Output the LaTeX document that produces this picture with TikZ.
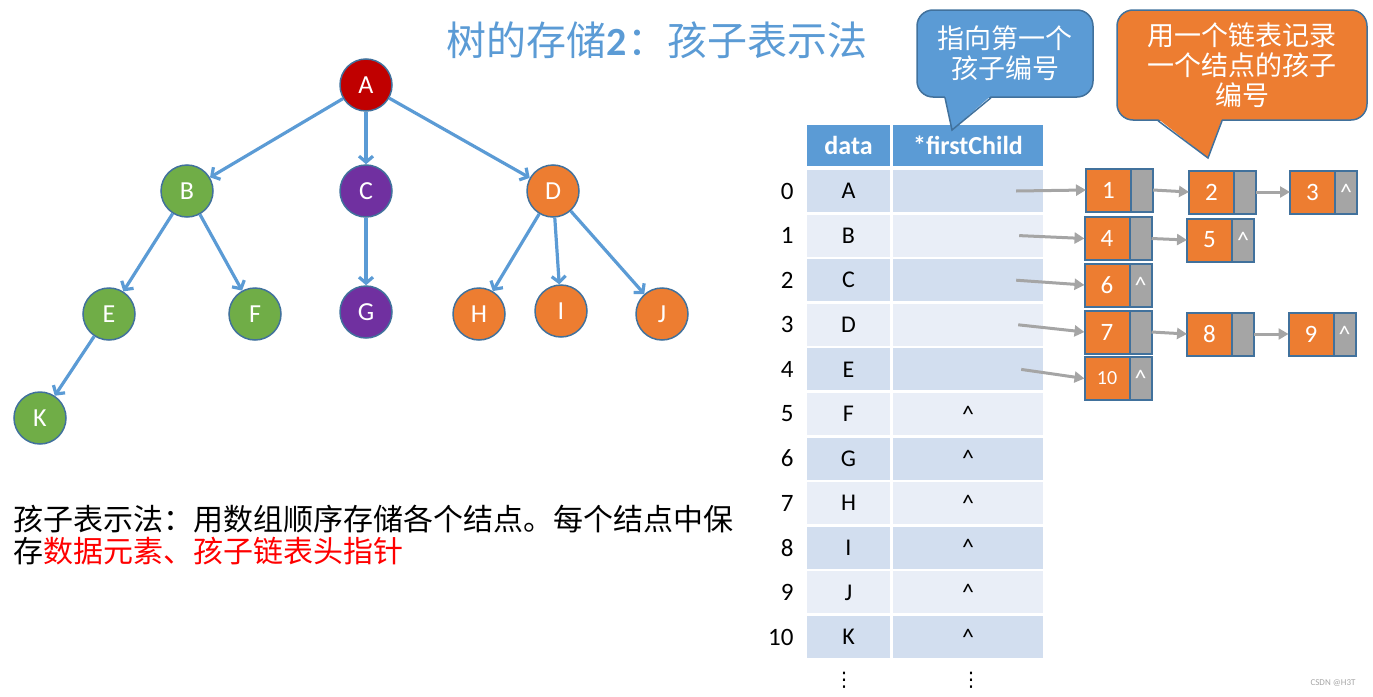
\documentclass[tikz,border=0pt]{standalone}
\usepackage{fontspec}
\setmainfont{Carlito}
\newfontfamily\cjk{Noto Sans CJK SC}
\newfontfamily\symfont{DejaVu Sans}
\usetikzlibrary{arrows.meta,positioning}

\definecolor{treeblue}{HTML}{5B9BD5}
\definecolor{lineblue}{HTML}{41719C}
\definecolor{nred}{HTML}{C00000}
\definecolor{ngreen}{HTML}{70AD47}
\definecolor{npurple}{HTML}{7030A0}
\definecolor{norange}{HTML}{ED7D31}
\definecolor{ngray}{HTML}{A5A5A5}
\definecolor{rowA}{HTML}{D2DEEF}
\definecolor{rowB}{HTML}{E9EEF7}

\begin{document}
\begin{tikzpicture}[x=1pt, y=-1pt,
	tnode/.style={draw=lineblue, line width=1.5pt, circle, minimum size=52pt, inner sep=0pt, text=white, font=\fontsize{26}{26}\selectfont},
	tedge/.style={treeblue, line width=3.2pt, -{Straight Barb[length=6pt,width=14pt]}},
	hcell/.style={fill=treeblue, text=white, minimum height=41pt, inner sep=0pt, font=\bfseries\fontsize{26}{26}\selectfont},
	cell/.style={minimum height=42pt, inner sep=0pt, font=\fontsize{24}{24}\selectfont},
	lnum/.style={draw=lineblue, line width=2pt, fill=norange, text=white, minimum width=45pt, minimum height=43pt, inner sep=0pt, outer sep=0pt, font=\fontsize{25}{25}\selectfont},
	lnext/.style={draw=lineblue, line width=2pt, fill=ngray, text=white, minimum width=22pt, minimum height=43pt, inner sep=0pt, outer sep=0pt, font=\fontsize{24}{24}\selectfont},
	parrow/.style={ngray, line width=3pt, -{Triangle[length=10pt,width=11pt]}},
	callout/.style={draw=lineblue, line width=1.5pt, rounded corners=16pt, text=white, align=center, inner sep=0pt, font=\cjk\fontsize{27}{30}\selectfont}]
	\useasboundingbox (0,0) rectangle (1373,696);
	
	\node[text=treeblue, font=\cjk\fontsize{40}{40}\selectfont] (title) at (657,40) {树的存储{\normalfont\bfseries 2}：孩子表示法};
	
	% tree
	\node[tnode, fill=nred] (A) at (366,85) {A};
	\node[tnode, fill=ngreen] (B) at (187,191) {B};
	\node[tnode, fill=npurple] (C) at (366,191) {C};
	\node[tnode, fill=norange] (D) at (553,191) {D};
	\node[tnode, fill=ngreen] (E) at (109,314) {E};
	\node[tnode, fill=ngreen] (F) at (255,314) {F};
	\node[tnode, fill=npurple] (G) at (366,312) {G};
	\node[tnode, fill=norange] (H) at (479,314) {H};
	\node[tnode, fill=norange] (I) at (561,311) {I};
	\node[tnode, fill=norange] (J) at (662,314) {J};
	\node[tnode, fill=ngreen] (K) at (40,418) {K};
	
	\draw[tedge] (A) -- (B);
	\draw[tedge] (A) -- (C);
	\draw[tedge] (A) -- (D);
	\draw[tedge] (B) -- (E);
	\draw[tedge] (B) -- (F);
	\draw[tedge] (C) -- (G);
	\draw[tedge] (D) -- (H);
	\draw[tedge] (D) -- (I);
	\draw[tedge] (D) -- (J);
	\draw[tedge] (E) -- (K);
	
	\node[anchor=west, align=left, font=\cjk\fontsize{30}{32}\selectfont] (desc) at (10,535) {孩子表示法：用数组顺序存储各个结点。每个结点中保\\存\textcolor{red}{数据元素、孩子链表头指针}};
	
	% table
	\node[hcell, minimum width=83pt] (hd) at (848.5,145.5) {data};
	\node[hcell, minimum width=150pt] (hf) at (968,145.5) {*firstChild};
	\foreach \ch/\cl/\nx [count=\i from 0] in {A/rowA/{}, B/rowB/{}, C/rowA/{}, D/rowB/{}, E/rowA/{}, F/rowB/\textasciicircum, G/rowA/\textasciicircum, H/rowB/\textasciicircum, I/rowA/\textasciicircum, J/rowB/\textasciicircum, K/rowA/\textasciicircum}{
		\node[cell, fill=\cl, minimum width=83pt] (d\i) at (848.5,191+44.6*\i) {\ch};
		\node[cell, fill=\cl, minimum width=150pt] (f\i) at (968,191+44.6*\i) {\nx};
		\node[anchor=east, font=\fontsize{25}{25}\selectfont] (i\i) at (797,191+44.6*\i) {\i};
	}
	\node[font=\symfont\fontsize{20}{20}\selectfont] (vd) at (844,680) {⋮};
	\node[font=\symfont\fontsize{20}{20}\selectfont] (vf) at (971,680) {⋮};
	
	% child lists
	\node[lnum] (l1) at (1108.5,190) {1};
	\node[lnext, right=0pt of l1] (l1n) {};
	\node[lnum] (l2) at (1211.5,192) {2};
	\node[lnext, right=0pt of l2] (l2n) {};
	\node[lnum] (l3) at (1312.5,192) {3};
	\node[lnext, right=0pt of l3] (l3n) {\textasciicircum};
	\node[lnum] (l4) at (1107,238.5) {4};
	\node[lnext, right=0pt of l4] (l4n) {};
	\node[lnum] (l5) at (1209.5,240) {5};
	\node[lnext, right=0pt of l5] (l5n) {\textasciicircum};
	\node[lnum] (l6) at (1107,285) {6};
	\node[lnext, right=0pt of l6] (l6n) {\textasciicircum};
	\node[lnum] (l7) at (1107,332) {7};
	\node[lnext, right=0pt of l7] (l7n) {};
	\node[lnum] (l8) at (1209.5,334) {8};
	\node[lnext, right=0pt of l8] (l8n) {};
	\node[lnum] (l9) at (1311,334) {9};
	\node[lnext, right=0pt of l9] (l9n) {\textasciicircum};
	\node[lnum, font=\fontsize{20}{20}\selectfont] (l10) at (1107,378.5) {10};
	\node[lnext, right=0pt of l10] (l10n) {\textasciicircum};
	
	\draw[parrow] ([xshift=-27pt]f0.east) -- (l1.west);
	\draw[parrow] ([xshift=-24pt]f1.east) -- (l4.west);
	\draw[parrow] ([xshift=-27pt]f2.east) -- (l6.west);
	\draw[parrow] ([xshift=-25pt]f3.east) -- (l7.west);
	\draw[parrow] ([xshift=-22pt]f4.east) -- (l10.west);
	\draw[parrow] (l1n.east) -- (l2.west);
	\draw[parrow] (l2n.east) -- (l3.west);
	\draw[parrow] (l4n.east) -- (l5.west);
	\draw[parrow] (l7n.east) -- (l8.west);
	\draw[parrow] (l8n.east) -- (l9.west);
	
	% callouts
	\node[callout, fill=treeblue, minimum width=176pt, minimum height=87pt] (cb) at (1005,53.5) {指向第一个\\孩子编号};
	\coordinate (cbtip) at (952,130);
	\fill[treeblue] ([xshift=-60pt,yshift=2pt]cb.south) -- (cbtip) -- ([xshift=-14pt,yshift=2pt]cb.south) -- cycle;
	\draw[lineblue, line width=1.5pt] ([xshift=-60pt]cb.south) -- (cbtip) -- ([xshift=-14pt]cb.south);
	
	\node[callout, fill=norange, minimum width=250pt, minimum height=110pt] (co) at (1242,65) {用一个链表记录\\一个结点的孩子\\编号};
	\coordinate (cotip) at (1208,158);
	\fill[norange] ([xshift=-84pt,yshift=2pt]co.south) -- (cotip) -- ([xshift=-20pt,yshift=2pt]co.south) -- cycle;
	\draw[lineblue, line width=1.5pt] ([xshift=-84pt]co.south) -- (cotip) -- ([xshift=-20pt]co.south);
	
	\node[text=gray!70, font=\fontsize{9}{9}\selectfont] (wm) at (1333,683) {CSDN @H3T};
\end{tikzpicture}
\end{document}
